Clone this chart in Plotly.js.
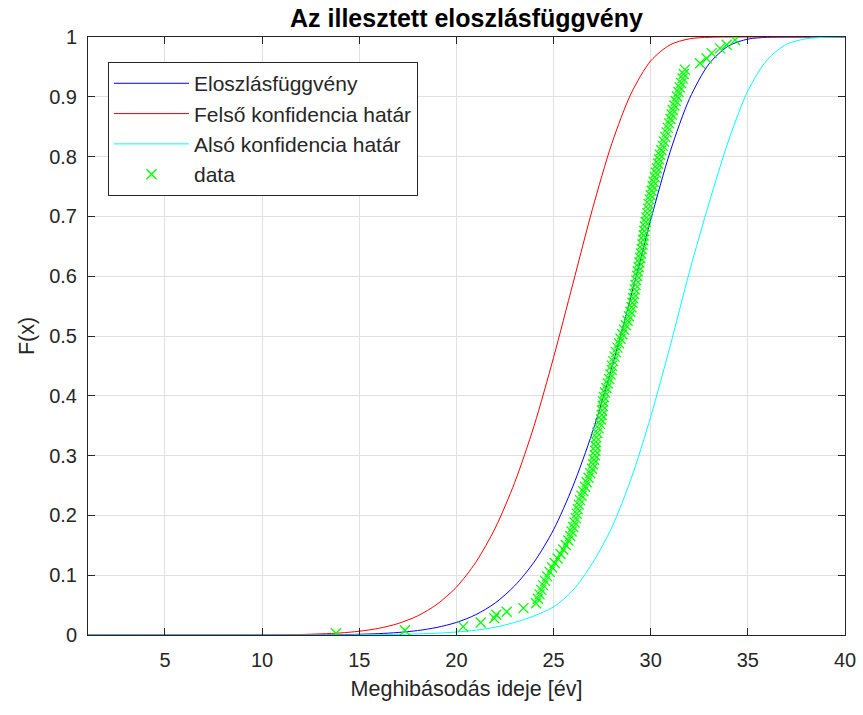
<!DOCTYPE html>
<html>
<head>
<meta charset="utf-8">
<script src="https://cdn.plot.ly/plotly-3.0.1.min.js"></script>
<style>html,body{margin:0;padding:0;background:#fff;}#chart{width:863px;height:715px;}</style>
</head>
<body>
<div id="chart"></div>
<script>
// ---- Data ----
const titleText = "Az illesztett eloszlásfüggvény";
const xLabel = "Meghibásodás ideje [év]";
const yLabel = "F(x)";
const seriesNames = ["Eloszlásfüggvény", "Felső konfidencia határ", "Alsó konfidencia határ", "data"];

// fitted CDF (blue)
const fitX = [1, 10, 12, 14, 15, 16, 17, 18, 19, 20, 21, 22, 23, 24, 25, 26, 27, 28, 29, 30, 31, 32, 33, 34, 35, 36, 37, 38, 40];
const fitF = [0, 0, 0.0001, 0.0006, 0.0012, 0.0023, 0.0042, 0.0074, 0.0127, 0.021, 0.034, 0.0536, 0.0823, 0.122, 0.176, 0.249, 0.339, 0.447, 0.568, 0.694, 0.808, 0.897, 0.955, 0.985, 0.9965, 0.9995, 1, 1, 1];

// upper confidence bound (red)
const upX = [1, 8, 10, 12, 14, 15, 16, 17, 18, 19, 20, 21, 22, 23, 24, 25, 26, 27, 28, 29, 30, 31, 32, 33, 34, 36, 40];
const upF = [0, 0, 0.0002, 0.0008, 0.0034, 0.0063, 0.0111, 0.0192, 0.0319, 0.0513, 0.080, 0.1217, 0.179, 0.255, 0.350, 0.464, 0.588, 0.712, 0.822, 0.906, 0.960, 0.987, 0.997, 0.9995, 1, 1, 1];

// lower confidence bound (cyan)
const loX = [1, 12, 15, 17, 19, 20, 21, 22, 23, 24, 25, 26, 27, 28, 29, 30, 31, 32, 33, 34, 35, 36, 37, 38, 39, 40];
const loF = [0, 0, 0.0003, 0.001, 0.003, 0.005, 0.008, 0.013, 0.021, 0.032, 0.047, 0.075, 0.12, 0.18, 0.262, 0.365, 0.483, 0.608, 0.722, 0.826, 0.910, 0.962, 0.988, 0.997, 0.9995, 1];

// empirical data points (green x)
const dataX = [13.80, 17.35, 20.35, 21.25, 21.95, 22.05, 22.59, 23.45,
  24.10, 24.19, 24.28, 24.37, 24.47, 24.57, 24.67, 24.80, 24.93, 25.06,
  25.21, 25.36, 25.50, 25.63, 25.76, 25.86, 25.93, 26.01, 26.08, 26.14,
  26.19, 26.25, 26.30, 26.36, 26.44, 26.53, 26.62, 26.71, 26.80, 26.89,
  26.98, 27.03, 27.08, 27.13, 27.15, 27.17, 27.18, 27.20, 27.25, 27.32,
  27.39, 27.45, 27.48, 27.50, 27.53, 27.55, 27.59, 27.65, 27.72, 27.79,
  27.86, 27.93, 28.00, 28.00, 28.07, 28.14, 28.21, 28.29, 28.37, 28.45,
  28.54, 28.63, 28.72, 28.81, 28.88, 28.95, 29.01, 29.06, 29.10, 29.14,
  29.18, 29.22, 29.26, 29.30, 29.34, 29.38, 29.42, 29.46, 29.50, 29.54,
  29.58, 29.61, 29.64, 29.67, 29.70, 29.74, 29.78, 29.82, 29.86, 29.90,
  29.95, 30.00, 30.05, 30.10, 30.15, 30.21, 30.27, 30.32, 30.38, 30.43,
  30.48, 30.55, 30.62, 30.68, 30.75, 30.82, 30.88, 30.95, 31.02, 31.08,
  31.14, 31.22, 31.29, 31.36, 31.43, 31.50, 31.57, 31.64, 31.70, 31.76,
  32.54, 32.88, 33.14, 33.57, 33.91, 34.34];
const dataF = [0.003, 0.008, 0.014, 0.021, 0.028, 0.034, 0.039, 0.045,
  0.053, 0.0605, 0.068, 0.0755, 0.083, 0.0905, 0.098, 0.1055, 0.113, 0.1205,
  0.128, 0.1355, 0.143, 0.1505, 0.158, 0.1655, 0.173, 0.1805, 0.188, 0.1955,
  0.203, 0.2105, 0.218, 0.2255, 0.233, 0.2405, 0.248, 0.2555, 0.263, 0.2705,
  0.278, 0.2855, 0.293, 0.3005, 0.308, 0.3155, 0.323, 0.3305, 0.338, 0.3455,
  0.353, 0.3605, 0.368, 0.3755, 0.383, 0.3905, 0.398, 0.4055, 0.413, 0.4205,
  0.428, 0.4355, 0.443, 0.4505, 0.458, 0.4655, 0.473, 0.4805, 0.488, 0.4955,
  0.503, 0.5105, 0.518, 0.5255, 0.533, 0.5405, 0.548, 0.5555, 0.563, 0.5705,
  0.578, 0.5855, 0.593, 0.6005, 0.608, 0.6155, 0.623, 0.6305, 0.638, 0.6455,
  0.653, 0.6605, 0.668, 0.6755, 0.683, 0.6905, 0.698, 0.7055, 0.713, 0.7205,
  0.728, 0.7355, 0.743, 0.7505, 0.758, 0.7655, 0.773, 0.7805, 0.788, 0.7955,
  0.803, 0.8105, 0.818, 0.8255, 0.833, 0.8405, 0.848, 0.8555, 0.863, 0.8705,
  0.878, 0.8855, 0.893, 0.9005, 0.908, 0.9155, 0.923, 0.9305, 0.938, 0.9455,
  0.956, 0.964, 0.973, 0.981, 0.987, 0.995];

const xTicks = [5, 10, 15, 20, 25, 30, 35, 40];
const yTicks = [0, 0.1, 0.2, 0.3, 0.4, 0.5, 0.6, 0.7, 0.8, 0.9, 1];

// ---- Plot ----
const FONT = "'Liberation Sans', Arial, Helvetica, sans-serif";
const AX = '#262626';
const traces = [
  {x: fitX, y: fitF, name: seriesNames[0], type: 'scatter', mode: 'lines', legendgroup: 'a',
   line: {color: '#0000ff', width: 1, shape: 'spline', smoothing: 0.8}},
  {x: upX, y: upF, name: seriesNames[1], type: 'scatter', mode: 'lines', legendgroup: 'b',
   line: {color: '#ff0000', width: 1, shape: 'spline', smoothing: 0.8}},
  {x: loX, y: loF, name: seriesNames[2], type: 'scatter', mode: 'lines', legendgroup: 'c',
   line: {color: '#00ffff', width: 1, shape: 'spline', smoothing: 0.8}},
  {x: dataX, y: dataF, name: seriesNames[3], type: 'scatter', mode: 'markers', legendgroup: 'd',
   marker: {symbol: 'x-thin-open', size: 10, color: '#00ff00', line: {color: '#00ff00', width: 1.3}}}
];

const axisCommon = {
  showline: true, linecolor: AX, linewidth: 1, mirror: 'ticks',
  ticks: 'inside', ticklen: 7, tickcolor: AX, tickwidth: 1,
  showgrid: true, gridcolor: '#e0e0e0', gridwidth: 1, zeroline: false,
  tickfont: {family: FONT, size: 20, color: AX}
};

const layout = {
  width: 863, height: 715,
  paper_bgcolor: '#ffffff', plot_bgcolor: '#ffffff',
  margin: {l: 88, r: 18, t: 37, b: 80},
  showlegend: true,
  title: {text: '<b>' + titleText + '</b>', font: {family: FONT, size: 25, color: '#000000'},
          x: 0.5405, xanchor: 'center', y: 0.975, yanchor: 'middle'},
  xaxis: Object.assign({}, axisCommon, {
    range: [1.04, 40], tickvals: xTicks, ticktext: xTicks.map(String),
    ticklabelstandoff: 7,
    title: {text: xLabel, font: {family: FONT, size: 21.5, color: AX}, standoff: 10}
  }),
  yaxis: Object.assign({}, axisCommon, {
    range: [0, 1], tickvals: yTicks, ticktext: yTicks.map(String),
    ticklabelstandoff: 6,
    title: {text: yLabel, font: {family: FONT, size: 21.5, color: AX}, standoff: 8}
  }),
  legend: {
    x: 0.0264, y: 0.958, xanchor: 'left', yanchor: 'top',
    bgcolor: '#ffffff', bordercolor: AX, borderwidth: 1,
    font: {family: FONT, size: 21, color: AX},
    traceorder: 'grouped', tracegroupgap: 0, itemwidth: 75
  }
};

Plotly.newPlot('chart', traces, layout, {staticPlot: true, displayModeBar: false});
</script>
</body>
</html>
